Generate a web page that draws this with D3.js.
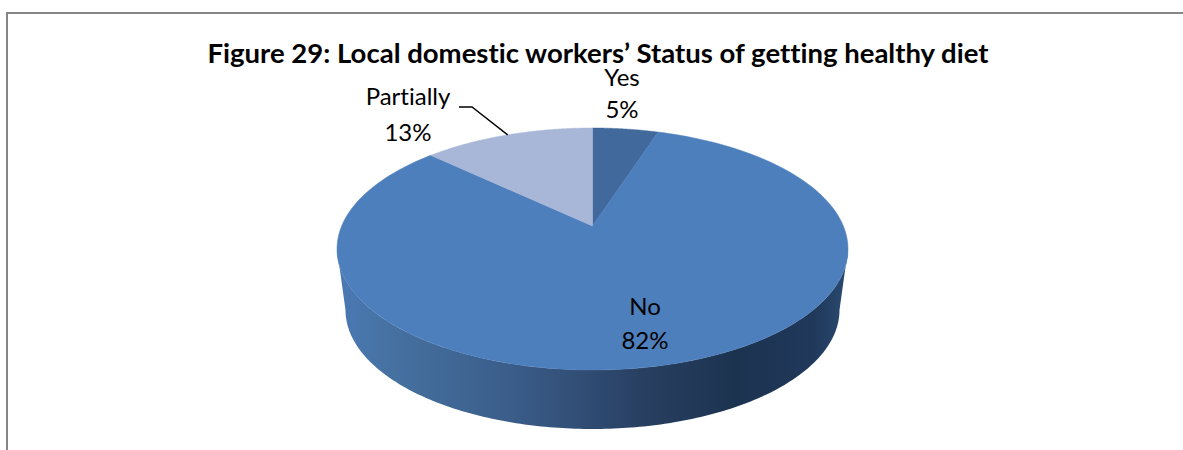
<!DOCTYPE html>
<html>
<head>
<meta charset="utf-8">
<style>
html, body { margin: 0; padding: 0; background: #fff; }
svg { display: block; }
text { font-family: Lato, "Open Sans", sans-serif; fill: #000; font-variant-ligatures: none; }
</style>
<script src="https://cdn.jsdelivr.net/npm/d3@7"></script>
</head>
<body>
<svg id="chart" width="1183" height="450"></svg>
<script>
const titleText = "Figure 29: Local domestic workers\u2019 Status of getting healthy diet";
const categories = ["Yes", "No", "Partially"];
const shares = [5, 82, 13];
const sliceColors = ["#41699b", "#4d7fbc", "#a8b7d7"];
const rimStops = [
  [0, "#4a79b4"], [0.12, "#45709f"], [0.35, "#3a5c89"],
  [0.6, "#283f61"], [0.78, "#1c3350"], [0.93, "#20385a"], [1, "#2a4a70"]
];

const width = 1183, height = 450;
const svg = d3.select("#chart").attr("viewBox", [0, 0, width, height]);

// Chart frame: only the top and left edges fall inside the page.
svg.append("rect")
  .attr("x", 7).attr("y", 13).attr("width", 1400).attr("height", 800)
  .attr("fill", "none").attr("stroke", "#868686").attr("stroke-width", 2);

svg.append("text")
  .attr("x", 598).attr("y", 63).attr("text-anchor", "middle")
  .attr("textLength", 781).attr("lengthAdjust", "spacingAndGlyphs")
  .style("font-size", "26px").style("font-weight", 700)
  .text(titleText);

// Tilted disc: a circle seen in perspective, so the pie's centre sits above
// the middle of the visible ellipse.
const disc = { cx: 592.5, cy: 249, rx: 255.5, ry: 121 };
const base = { cx: 592.5, cy: 310, rx: 247, ry: 119 };
const tilt = 0.19;
const squeeze = Math.sqrt(1 - tilt * tilt);

function project(angle, radius = 1) {
  const u = radius * Math.sin(angle), v = radius * Math.cos(angle);
  const w = tilt * v + 1;
  return [disc.cx + disc.rx * squeeze * u / w, disc.cy - disc.ry * (v + tilt) / w];
}
const onEllipse = (e, t) => [e.cx + e.rx * Math.sin(t), e.cy - e.ry * Math.cos(t)];

const line = d3.line();
const arcs = d3.pie().sort(null).value(d => d)(shares);

// Rim gradient runs left to right across the visible side of the disc.
const defs = svg.append("defs");
const rim = defs.append("linearGradient").attr("id", "rim")
  .attr("gradientUnits", "userSpaceOnUse")
  .attr("x1", disc.cx - disc.rx).attr("x2", disc.cx + disc.rx)
  .attr("y1", 0).attr("y2", 0);
rim.selectAll("stop").data(rimStops).join("stop")
  .attr("offset", d => d[0]).attr("stop-color", d => d[1]);

const lowerSweep = d3.range(90, 270.5, 1).map(d => d * Math.PI / 180);
const rimPoints = lowerSweep.map(t => onEllipse(base, t))
  .concat(lowerSweep.slice().reverse().map(t => onEllipse(disc, t)));
svg.append("path").attr("d", line(rimPoints) + "Z").attr("fill", "url(#rim)");

// Top face, one wedge per category.
svg.append("g").selectAll("path").data(arcs).join("path")
  .attr("d", a => {
    const steps = d3.range(0, 181).map(i => a.startAngle + (a.endAngle - a.startAngle) * i / 180);
    return line([project(0, 0), ...steps.map(t => project(t))]) + "Z";
  })
  .attr("fill", (a, i) => sliceColors[i])
  .attr("stroke", (a, i) => sliceColors[i]).attr("stroke-width", 0.5);

// Leader from the Partially label to the middle of its wedge.
const partial = arcs[2];
const tip = project((partial.startAngle + partial.endAngle) / 2);
svg.append("path")
  .attr("d", line([[459, 107], [472, 107], tip]))
  .attr("fill", "none").attr("stroke", "#000").attr("stroke-width", 1.3);

// Data labels, placed by category.
const labelAnchors = [[622, 86, 118], [645, 315, 349], [408, 105, 141]];
const labels = svg.append("g").selectAll("g").data(arcs).join("g");
labels.append("text")
  .attr("x", (a, i) => labelAnchors[i][0]).attr("y", (a, i) => labelAnchors[i][1])
  .attr("text-anchor", "middle").style("font-size", "24px")
  .text((a, i) => categories[i]);
labels.append("text")
  .attr("x", (a, i) => labelAnchors[i][0]).attr("y", (a, i) => labelAnchors[i][2])
  .attr("text-anchor", "middle").style("font-size", "24px")
  .text(a => a.data + "%");
</script>
</body>
</html>
